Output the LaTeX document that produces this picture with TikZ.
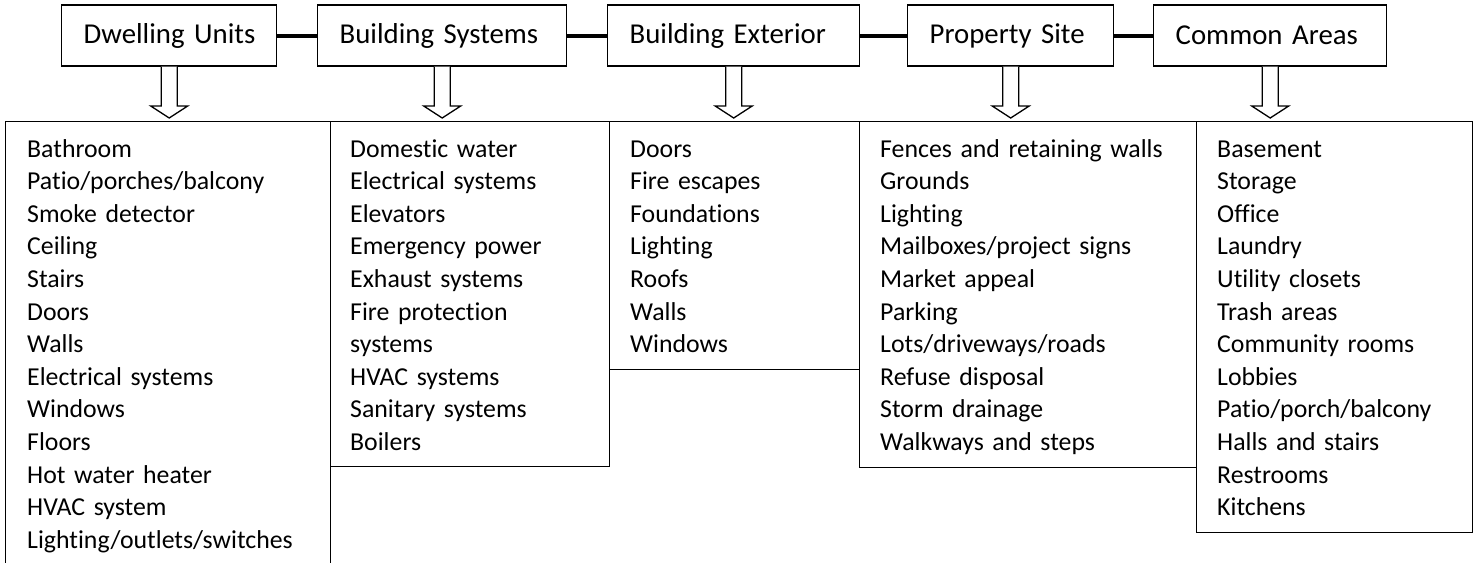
\documentclass[tikz,border=0pt]{standalone}
\usepackage{fontspec}
\setmainfont{Carlito}[Ligatures=NoCommon]
\usetikzlibrary{calc}

\begin{document}
\begin{tikzpicture}[x=1pt,y=-1pt,
    head/.style={draw, line width=1.4pt, minimum height=61pt, inner xsep=22pt,
        inner ysep=0pt, align=left, anchor=west, font=\fontsize{28.8}{34}\selectfont},
    panel/.style={draw, line width=1.4pt, inner sep=0pt, anchor=north west},
    items/.style={anchor=base west, inner sep=0pt, align=left, text width=320pt,
        font=\fontsize{25.8}{32.6}\selectfont},
    hollow/.style={draw, line width=1.3pt, fill=white, line join=miter}]
    \useasboundingbox (0,0) rectangle (1479,562);
    % headings
    \node[head, text width=171pt] (du) at (61,35.5) {\mbox{Dwelling Units}};
    \node[head, text width=205pt] (bs) at (317,35.5) {\mbox{Building Systems}};
    \node[head, text width=208pt] (be) at (607,35.5) {\mbox{Building Exterior}};
    \node[head, text width=162pt] (ps) at (907,35.5) {\mbox{Property Site}};
    \node[head, text width=189pt] (ca) at (1153,35.5) {\mbox{Common Areas}};
    \draw[line width=4pt] (du) -- (bs) (bs) -- (be) (be) -- (ps) (ps) -- (ca);
    % lists
    \node[panel, minimum width=325pt, minimum height=454pt] (p1) at (5,121) {};
    \node[panel, minimum width=279pt, minimum height=345pt] (p2) at (330,121) {};
    \node[panel, minimum width=250pt, minimum height=248pt] (p3) at (609,121) {};
    \node[panel, minimum width=337pt, minimum height=346pt] (p4) at (859,121) {};
    \node[panel, minimum width=276pt, minimum height=411pt] (p5) at (1196,121) {};
    \node[items] (l1) at ($(p1.north west)+(22,36)$) {Bathroom\\Patio/porches/balcony\\
        Smoke detector\\Ceiling\\Stairs\\Doors\\Walls\\Electrical systems\\Windows\\
        Floors\\Hot water heater\\HVAC system\\Lighting/outlets/switches};
    \node[items] (l2) at ($(p2.north west)+(20,36)$) {Domestic water\\Electrical systems\\
        Elevators\\Emergency power\\Exhaust systems\\Fire protection\\systems\\
        HVAC systems\\Sanitary systems\\Boilers};
    \node[items] (l3) at ($(p3.north west)+(21,36)$) {Doors\\Fire escapes\\Foundations\\
        Lighting\\Roofs\\Walls\\Windows};
    \node[items] (l4) at ($(p4.north west)+(21,36)$) {Fences and retaining walls\\Grounds\\
        Lighting\\Mailboxes/project signs\\Market appeal\\Parking\\Lots/driveways/roads\\
        Refuse disposal\\Storm drainage\\Walkways and steps};
    \node[items] (l5) at ($(p5.north west)+(21,36)$) {Basement\\Storage\\Office\\Laundry\\
        Utility closets\\Trash areas\\Community rooms\\Lobbies\\Patio/porch/balcony\\
        Halls and stairs\\Restrooms\\Kitchens};
    % hollow arrows
    \foreach \t/\p in {du/p1, bs/p2, be/p3, ps/p4, ca/p5}
        \draw[hollow] ($(\t.south)+(-8,0)$) -- ($(\t.south |- \p.north)+(-8,-15)$)
            -- ($(\t.south |- \p.north)+(-18.5,-15)$) -- ($(\t.south |- \p.north)+(0,-3)$)
            -- ($(\t.south |- \p.north)+(18.5,-15)$) -- ($(\t.south |- \p.north)+(8,-15)$)
            -- ($(\t.south)+(8,0)$);
\end{tikzpicture}
\end{document}
